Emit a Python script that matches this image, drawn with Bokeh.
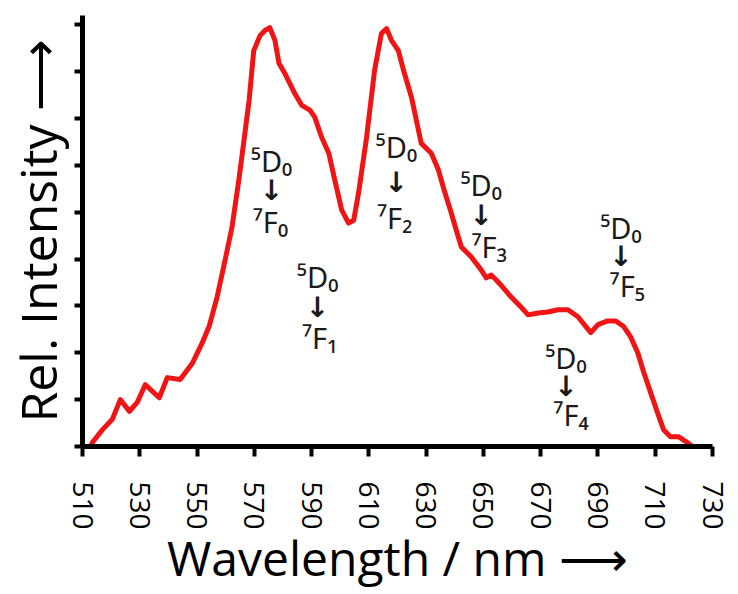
from bokeh.plotting import figure
from bokeh.models import FixedTicker, ColumnDataSource
from bokeh.core.properties import value
from bokeh.embed import file_html
from bokeh.resources import INLINE

# Emission spectrum
wavelength = [512.8, 513.5, 517.0, 520.4, 523.2, 526.4, 529.1, 531.9, 536.8, 539.6, 544.1, 548.3,
              551.8, 554.2, 557.0, 559.8, 562.2, 564.6, 566.4, 568.2, 569.8, 572.0, 573.7, 575.4,
              577.2, 578.6, 580.7, 584.1, 586.6, 589.4, 591.1, 593.5, 596.0, 598.1, 600.5, 602.9,
              604.7, 606.4, 609.2, 612.0, 614.4, 616.2, 617.9, 620.3, 622.1, 624.9, 628.3, 631.8,
              634.3, 636.3, 638.8, 640.5, 642.3, 645.7, 649.2, 651.0, 652.7, 654.4, 656.5, 659.7,
              663.1, 665.6, 669.1, 672.5, 676.0, 679.5, 683.0, 685.8, 687.5, 690.0, 693.4, 696.2,
              699.0, 701.4, 703.9, 706.0, 708.4, 710.8, 712.9, 715.3, 718.1, 720.6, 723.0]
intensity = [0, 0.09, 0.36, 0.58, 1.0, 0.75, 0.94, 1.32, 1.04, 1.47, 1.43, 1.77,
             2.21, 2.56, 3.19, 3.98, 4.68, 5.69, 6.54, 7.4, 8.45, 8.77, 8.88, 8.94,
             8.67, 8.18, 7.96, 7.54, 7.28, 7.18, 7.03, 6.6, 6.26, 5.69, 5.05, 4.77,
             4.83, 5.41, 6.6, 8.03, 8.82, 8.92, 8.67, 8.45, 8.03, 7.45, 6.47, 6.26,
             5.9, 5.47, 4.98, 4.62, 4.26, 4.05, 3.77, 3.6, 3.66, 3.56, 3.42, 3.19,
             2.98, 2.81, 2.85, 2.87, 2.92, 2.92, 2.77, 2.56, 2.43, 2.6, 2.68, 2.68,
             2.56, 2.34, 2.0, 1.58, 1.15, 0.72, 0.36, 0.21, 0.21, 0.11, 0]

x_ticks = [510, 530, 550, 570, 590, 610, 630, 650, 670, 690, 710, 730]
y_ticks = [0, 1, 2, 3, 4, 5, 6, 7, 8, 9]

# Transition annotations: upper state, arrow, lower state
upper_label = ["⁵D₀", "⁵D₀", "⁵D₀", "⁵D₀", "⁵D₀", "⁵D₀"]
upper_x = [576.0, 592.1, 619.6, 649.2, 678.8, 698.0]
upper_y = [6.11, 3.62, 6.41, 5.60, 1.89, 4.68]
lower_label = ["⁷F₀", "⁷F₁", "⁷F₂", "⁷F₃", "⁷F₄", "⁷F₅"]
lower_x = [575.6, 592.8, 619.0, 652.0, 680.6, 700.2]
lower_y = [4.81, 2.32, 4.88, 4.26, 0.68, 3.43]

p = figure(width=732, height=592, x_range=(510, 730), y_range=(0, 9.2),
           output_backend="svg", toolbar_location=None,
           min_border_left=80, min_border_right=20, min_border_top=15, min_border_bottom=145)
p.background_fill_color = "white"
p.border_fill_color = "white"
p.outline_line_color = None
p.grid.visible = False

p.line(wavelength, intensity, line_color="#f01414", line_width=5, line_join="round")

arrow_y = [(a + b) / 2 for a, b in zip(upper_y, lower_y)]
src = ColumnDataSource(dict(ux=upper_x, uy=upper_y, ut=upper_label,
                            lx=lower_x, ly=lower_y, lt=lower_label,
                            ay=arrow_y, at=["↓"] * len(upper_x)))
font = value("Noto Sans")
p.text(x="ux", y="uy", text="ut", source=src, text_font=font, text_font_size="29px",
       text_align="center", text_baseline="middle", text_color="#1a1a1a")
p.text(x="ux", y="ay", text="at", source=src, text_font=value("DejaVu Sans"),
       text_font_style="bold", text_font_size="28px",
       text_align="center", text_baseline="middle", text_color="#1a1a1a")
p.text(x="lx", y="ly", text="lt", source=src, text_font=font, text_font_size="29px",
       text_align="center", text_baseline="middle", text_color="#1a1a1a")

for ax in (p.xaxis[0], p.yaxis[0]):
    ax.axis_line_width = 5
    ax.axis_line_color = "black"
    ax.major_tick_line_width = 4
    ax.major_tick_line_color = "black"
    ax.major_tick_in = 0
    ax.minor_tick_line_color = None
    ax.axis_label_text_font = "Open Sans"
    ax.axis_label_text_font_style = "normal"
    ax.axis_label_text_color = "black"

p.xaxis.ticker = FixedTicker(ticks=x_ticks)
p.xaxis.major_tick_out = 10
p.xaxis.major_label_orientation = "vertical"
p.xaxis.major_label_text_font = "Open Sans"
p.xaxis.major_label_text_font_size = "28px"
p.xaxis.major_label_text_color = "black"
p.xaxis.major_label_standoff = 25
p.xaxis.axis_label = "Wavelength / nm ⟶"
p.xaxis.axis_label_text_font_size = "48px"
p.xaxis.axis_label_standoff = -8

p.yaxis.ticker = FixedTicker(ticks=y_ticks)
p.yaxis.major_tick_out = 8
p.yaxis.major_label_overrides = {t: "" for t in y_ticks}
p.yaxis.major_label_standoff = 0
p.yaxis.axis_label = "Rel. Intensity ⟶"
p.yaxis.axis_label_text_font_size = "50px"
p.yaxis.axis_label_standoff = 3

open("out.html", "w").write(file_html(p, INLINE))
